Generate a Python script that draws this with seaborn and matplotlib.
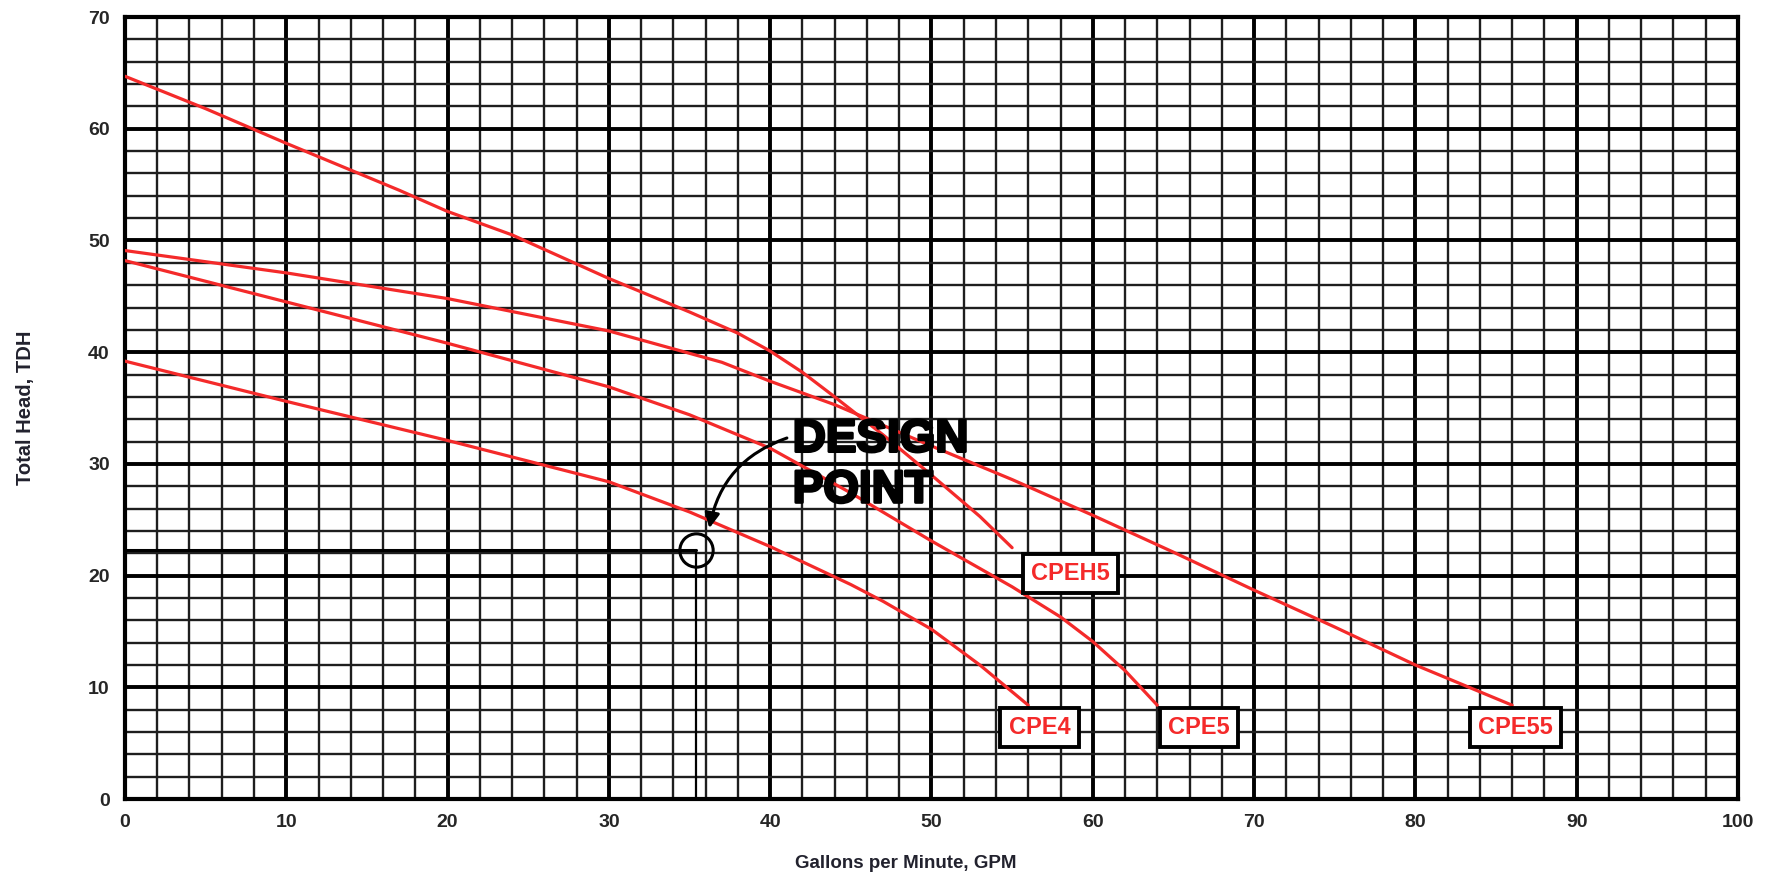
import matplotlib
matplotlib.use("Agg")
import matplotlib.pyplot as plt
import matplotlib.patheffects as pe
from matplotlib.ticker import MultipleLocator
import pandas as pd
import seaborn as sns

# pump curves (GPM -> total head, ft)
cpeh5_gpm = [0, 5, 10, 17, 20, 24, 30, 35, 38, 40, 42, 44, 47, 50, 53, 55]
cpeh5_tdh = [64.7, 61.8, 58.7, 54.5, 52.6, 50.5, 46.6, 43.6, 41.7, 40.1, 38.2, 36.0, 32.6, 29.0, 25.3, 22.5]

cpe55_gpm = [0, 10, 20, 30, 37, 40, 44, 50, 55, 60, 65, 70, 75, 80, 86]
cpe55_tdh = [49.1, 47.1, 44.8, 41.9, 39.1, 37.4, 35.3, 31.6, 28.6, 25.4, 22.1, 18.7, 15.4, 12.0, 8.4]

cpe5_gpm = [0, 10, 20, 30, 35, 40, 45, 50, 55, 58, 60, 62, 64]
cpe5_tdh = [48.2, 44.5, 40.8, 36.9, 34.4, 31.4, 27.4, 23.1, 19.0, 16.3, 14.1, 11.5, 8.4]

cpe4_gpm = [0, 10, 20, 30, 35, 40, 45, 47, 50, 53, 56]
cpe4_tdh = [39.2, 35.6, 32.1, 28.4, 25.7, 22.6, 19.2, 17.7, 15.2, 12.0, 8.4]

models = ["CPEH5", "CPE55", "CPE5", "CPE4"]

design_gpm = 35.4
design_tdh = 22.3

xticks = list(range(0, 101, 10))
yticks = list(range(0, 71, 10))

frames = []
for name, g, h in zip(models,
                      [cpeh5_gpm, cpe55_gpm, cpe5_gpm, cpe4_gpm],
                      [cpeh5_tdh, cpe55_tdh, cpe5_tdh, cpe4_tdh]):
    frames.append(pd.DataFrame({"gpm": g, "tdh": h, "model": name}))
df = pd.concat(frames, ignore_index=True)

sns.set_style("white")
plt.rcParams["font.family"] = ["Liberation Sans", "DejaVu Sans"]

RED = "#f42a2a"

fig = plt.figure(figsize=(17.7, 8.8), dpi=100)
ax = fig.add_axes([0.0706, 0.092, 0.9113, 0.8886])

sns.lineplot(
    data=df, x="gpm", y="tdh", hue="model",
    palette={m: RED for m in models},
    estimator=None, sort=False, legend=False,
    linewidth=2.3, ax=ax, zorder=3
)

ax.set_xlim(0, 100)
ax.set_ylim(0, 70)
ax.set_xticks(xticks)
ax.set_yticks(yticks)
ax.xaxis.set_minor_locator(MultipleLocator(2))
ax.yaxis.set_minor_locator(MultipleLocator(2))

# graph-paper grid
ax.set_axisbelow(True)
ax.grid(which="minor", color="#1e1e1e", linewidth=1.7)
ax.grid(which="major", color="black", linewidth=2.8)

for s in ax.spines.values():
    s.set_color("black")
    s.set_linewidth(3)

ax.tick_params(axis="y", which="major", length=5, width=1.5, pad=6,
               labelsize=14, color="black")
ax.tick_params(axis="x", which="major", length=0, pad=11, labelsize=14)
ax.tick_params(which="minor", length=0)
for lab in ax.get_xticklabels() + ax.get_yticklabels():
    lab.set_fontweight("bold")

ax.set_xlabel("Gallons per Minute, GPM", fontsize=13.5, fontweight="bold",
              color="#22222e")
ax.set_ylabel("Total Head, TDH", fontsize=14.5, fontweight="bold",
              color="#22222e")
ax.xaxis.set_label_coords(0.484, -0.072)
ax.yaxis.set_label_coords(-0.056, 0.5)

# model tags
tag_pos = {"CPEH5": (58.6, 20.2), "CPE4": (56.7, 6.4),
           "CPE5": (66.6, 6.4), "CPE55": (86.2, 6.4)}
for name, (tx, ty) in tag_pos.items():
    ax.text(tx, ty, name, color=RED, fontsize=17, fontweight="bold",
            ha="center", va="center", zorder=5,
            bbox=dict(boxstyle="square,pad=0.35", fc="white",
                      ec="black", lw=2.8))

# design point
ax.plot([0, design_gpm], [design_tdh, design_tdh], color="black", lw=2.2, zorder=4)
ax.plot([design_gpm, design_gpm], [design_tdh, 0], color="black", lw=1.6, zorder=4)
ax.plot([design_gpm], [design_tdh], marker="o", markersize=24, mfc="none",
        mec="black", mew=2.2, zorder=4)

ax.text(41.4, 29.9, "DESIGN\nPOINT", fontsize=33, fontweight="heavy",
        ha="left", va="center", linespacing=1.2, color="black", zorder=6,
        path_effects=[pe.withStroke(linewidth=2, foreground="black")])
ax.annotate("", xy=(36.2, 24.0), xytext=(41.2, 32.4), zorder=6,
            arrowprops=dict(arrowstyle="-|>", connectionstyle="arc3,rad=0.3",
                            lw=2.2, color="black", mutation_scale=22))

fig.savefig("out.png", dpi=100)
plt.close(fig)
